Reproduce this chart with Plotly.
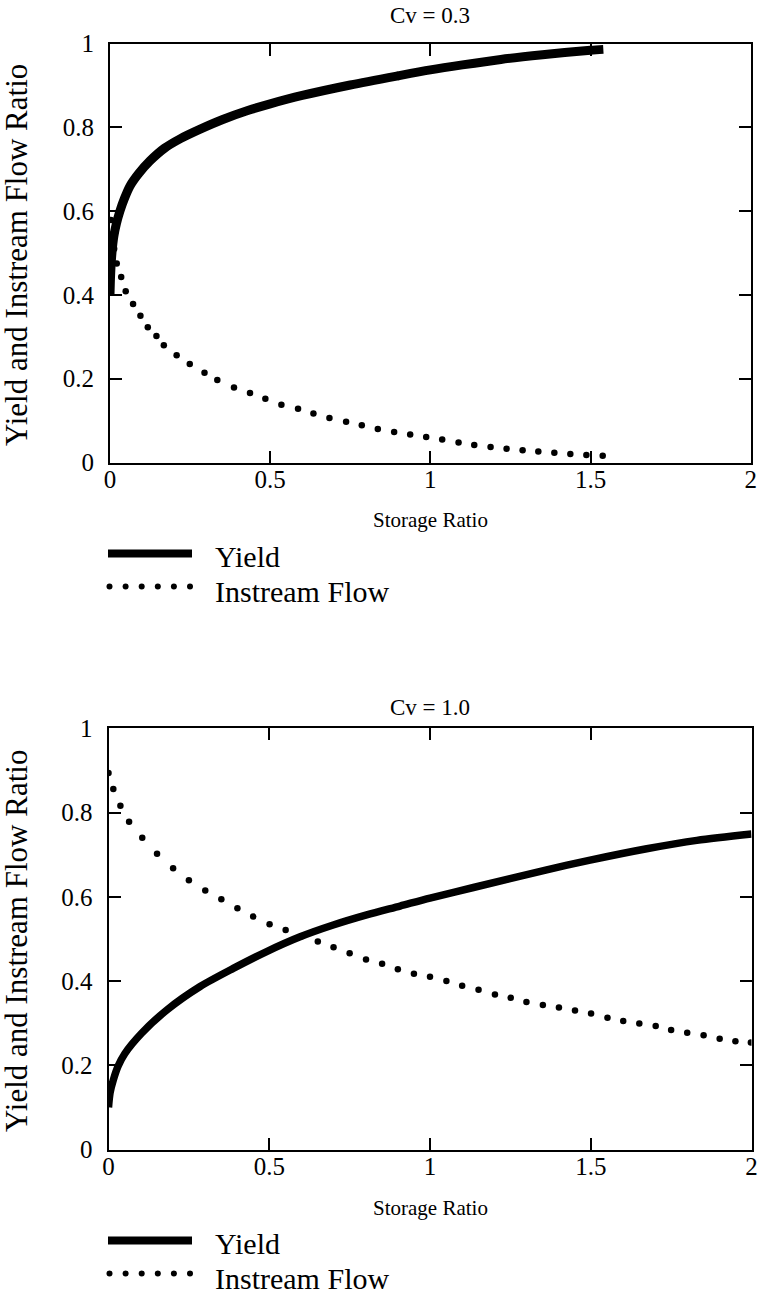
import plotly.graph_objects as go

W, H = 762, 1294
FONT = "Liberation Serif"

# ---------------- data ----------------
titles = ["Cv = 0.3", "Cv = 1.0"]
x_title = "Storage Ratio"
y_title = "Yield and Instream Flow Ratio"
series_names = ["Yield", "Instream Flow"]
x_ticks = [0, 0.5, 1, 1.5, 2]
x_ticktext = ["0", "0.5", "1", "1.5", "2"]
y_ticks = [0, 0.2, 0.4, 0.6, 0.8, 1]
y_ticktext = ["0", "0.2", "0.4", "0.6", "0.8", "1"]

# Cv = 0.3
top_yield_x = [0, 0.002, 0.006, 0.012, 0.02, 0.031, 0.045, 0.0625, 0.09, 0.125, 0.17, 0.22,
               0.28, 0.35, 0.43, 0.50, 0.60, 0.75, 0.90, 1.00, 1.10, 1.22, 1.35, 1.50, 1.54]
top_yield_y = [0.40, 0.45, 0.50, 0.54, 0.57, 0.60, 0.63, 0.66, 0.69, 0.72, 0.75, 0.773,
               0.795, 0.818, 0.840, 0.856, 0.876, 0.901, 0.923, 0.937, 0.949, 0.962, 0.973,
               0.984, 0.986]
top_flow_x = [0.003, 0.008, 0.013, 0.021, 0.035, 0.049, 0.072, 0.095, 0.118, 0.145, 0.168,
              0.208, 0.249, 0.295, 0.335, 0.387, 0.437, 0.485, 0.535, 0.587, 0.635, 0.685,
              0.737, 0.786, 0.836, 0.887, 0.937, 0.987, 1.037, 1.088, 1.137, 1.188, 1.238,
              1.288, 1.337, 1.387, 1.437, 1.487, 1.538]
top_flow_y = [0.579, 0.545, 0.510, 0.475, 0.443, 0.409, 0.378, 0.350, 0.323, 0.302, 0.280,
              0.256, 0.235, 0.214, 0.197, 0.179, 0.166, 0.152, 0.138, 0.128, 0.117, 0.106,
              0.097, 0.089, 0.080, 0.073, 0.067, 0.061, 0.055, 0.048, 0.042, 0.037, 0.033,
              0.029, 0.026, 0.023, 0.020, 0.018, 0.016]

# Cv = 1.0
bot_yield_x = [0, 0.005, 0.015, 0.03, 0.051, 0.103, 0.181, 0.285, 0.388, 0.492, 0.596, 0.699,
               0.803, 0.907, 1.0, 1.135, 1.363, 1.498, 1.674, 1.83, 2.0]
bot_yield_y = [0.10, 0.135, 0.165, 0.198, 0.228, 0.276, 0.331, 0.387, 0.430, 0.470, 0.505, 0.533,
               0.557, 0.578, 0.597, 0.622, 0.664, 0.687, 0.714, 0.734, 0.749]
bot_flow_x = [0.0, 0.015, 0.037, 0.064, 0.105, 0.151, 0.201, 0.25, 0.301, 0.351, 0.401, 0.45,
              0.501, 0.551, 0.601, 0.651, 0.70, 0.75, 0.801, 0.851, 0.90, 0.95, 1.0, 1.051,
              1.10, 1.151, 1.202, 1.251, 1.30, 1.351, 1.401, 1.451, 1.501, 1.552, 1.601, 1.651,
              1.702, 1.75, 1.80, 1.851, 1.901, 1.95, 1.998]
bot_flow_y = [0.894, 0.856, 0.816, 0.778, 0.740, 0.702, 0.668, 0.639, 0.615, 0.594, 0.573, 0.553,
              0.535, 0.521, 0.506, 0.494, 0.480, 0.466, 0.451, 0.441, 0.428, 0.417, 0.410, 0.400,
              0.389, 0.379, 0.368, 0.360, 0.350, 0.343, 0.337, 0.330, 0.323, 0.313, 0.305, 0.299,
              0.293, 0.284, 0.277, 0.271, 0.263, 0.257, 0.254]

# ---------------- layout geometry (pixels) ----------------
def px_x(p):
    return p / W

def px_y(p):
    return 1 - p / H

panels = [
    dict(left=110, right=750.7, top=43.5, bottom=462.5, yw=top_yield_x, yv=top_yield_y,
         fx=top_flow_x, fv=top_flow_y, lw=9, title=titles[0], title_gap=28),
    dict(left=108.5, right=751.5, top=728.3, bottom=1149.5, yw=bot_yield_x, yv=bot_yield_y,
         fx=bot_flow_x, fv=bot_flow_y, lw=7.5, title=titles[1], title_gap=21),
]

fig = go.Figure()
annotations = []
shapes = []

for i, p in enumerate(panels):
    xa = "x" if i == 0 else "x2"
    ya = "y" if i == 0 else "y2"
    fig.add_trace(go.Scatter(x=p["yw"], y=p["yv"], mode="lines", xaxis=xa, yaxis=ya,
                             name=series_names[0], showlegend=False,
                             line=dict(color="black", width=p["lw"], shape="spline", smoothing=0.8)))
    fig.add_trace(go.Scatter(x=p["fx"], y=p["fv"], mode="markers", xaxis=xa, yaxis=ya,
                             name=series_names[1], showlegend=False,
                             marker=dict(color="black", size=6.5, line=dict(width=0))))
    ax_common = dict(showline=True, linecolor="black", linewidth=2, mirror="allticks",
                     ticks="inside", ticklen=12, tickwidth=1.5, tickcolor="black",
                     showgrid=False, zeroline=False, automargin=False,
                     tickfont=dict(family=FONT, size=25, color="black"))
    xkey = "xaxis" if i == 0 else "xaxis2"
    ykey = "yaxis" if i == 0 else "yaxis2"
    fig.update_layout(**{
        xkey: dict(ax_common, domain=[px_x(p["left"]), px_x(p["right"])], range=[0, 2],
                   tickvals=x_ticks, ticktext=x_ticktext, anchor=ya, ticklabelstandoff=-7),
        ykey: dict(ax_common, domain=[px_y(p["bottom"]), px_y(p["top"])], range=[0, 1],
                   tickvals=y_ticks, ticktext=y_ticktext, anchor=xa, ticklabelstandoff=9),
    })
    cx = (p["left"] + p["right"]) / 2
    cy = (p["top"] + p["bottom"]) / 2
    # title
    annotations.append(dict(text=p["title"], x=px_x(cx), y=px_y(p["top"] - p["title_gap"]),
                            xref="paper", yref="paper", showarrow=False, xanchor="center",
                            yanchor="middle", font=dict(family=FONT, size=23, color="black")))
    # x title
    annotations.append(dict(text=x_title, x=px_x(cx), y=px_y(p["bottom"] + 58), xref="paper",
                            yref="paper", showarrow=False, xanchor="center", yanchor="middle",
                            font=dict(family=FONT, size=21, color="black")))
    # y title
    annotations.append(dict(text=y_title, x=px_x(17), y=px_y(cy + 2), xref="paper", yref="paper",
                            showarrow=False, xanchor="center", yanchor="middle", textangle=-90,
                            font=dict(family=FONT, size=31, color="black")))
    # legend
    ly1 = p["bottom"] + 91
    ly2 = p["bottom"] + 124
    shapes.append(dict(type="line", xref="paper", yref="paper", x0=px_x(108), x1=px_x(192),
                       y0=px_y(ly1), y1=px_y(ly1), line=dict(color="black", width=8)))
    for k in range(6):
        dx = 109.5 + k * 16.1
        shapes.append(dict(type="circle", xref="paper", yref="paper",
                           x0=px_x(dx - 3), x1=px_x(dx + 3),
                           y0=px_y(ly2 - 3), y1=px_y(ly2 + 3),
                           fillcolor="black", line=dict(width=0)))
    annotations.append(dict(text=series_names[0], x=px_x(213), y=px_y(ly1 + 3), xref="paper",
                            yref="paper", showarrow=False, xanchor="left", yanchor="middle",
                            font=dict(family=FONT, size=30, color="black")))
    annotations.append(dict(text=series_names[1], x=px_x(213), y=px_y(ly2 + 5), xref="paper",
                            yref="paper", showarrow=False, xanchor="left", yanchor="middle",
                            font=dict(family=FONT, size=30, color="black")))

fig.update_layout(template="none", width=W, height=H, margin=dict(l=0, r=0, t=0, b=0, pad=0),
                  paper_bgcolor="white", plot_bgcolor="white", showlegend=False,
                  annotations=annotations, shapes=shapes)

fig.write_html("out.html")
